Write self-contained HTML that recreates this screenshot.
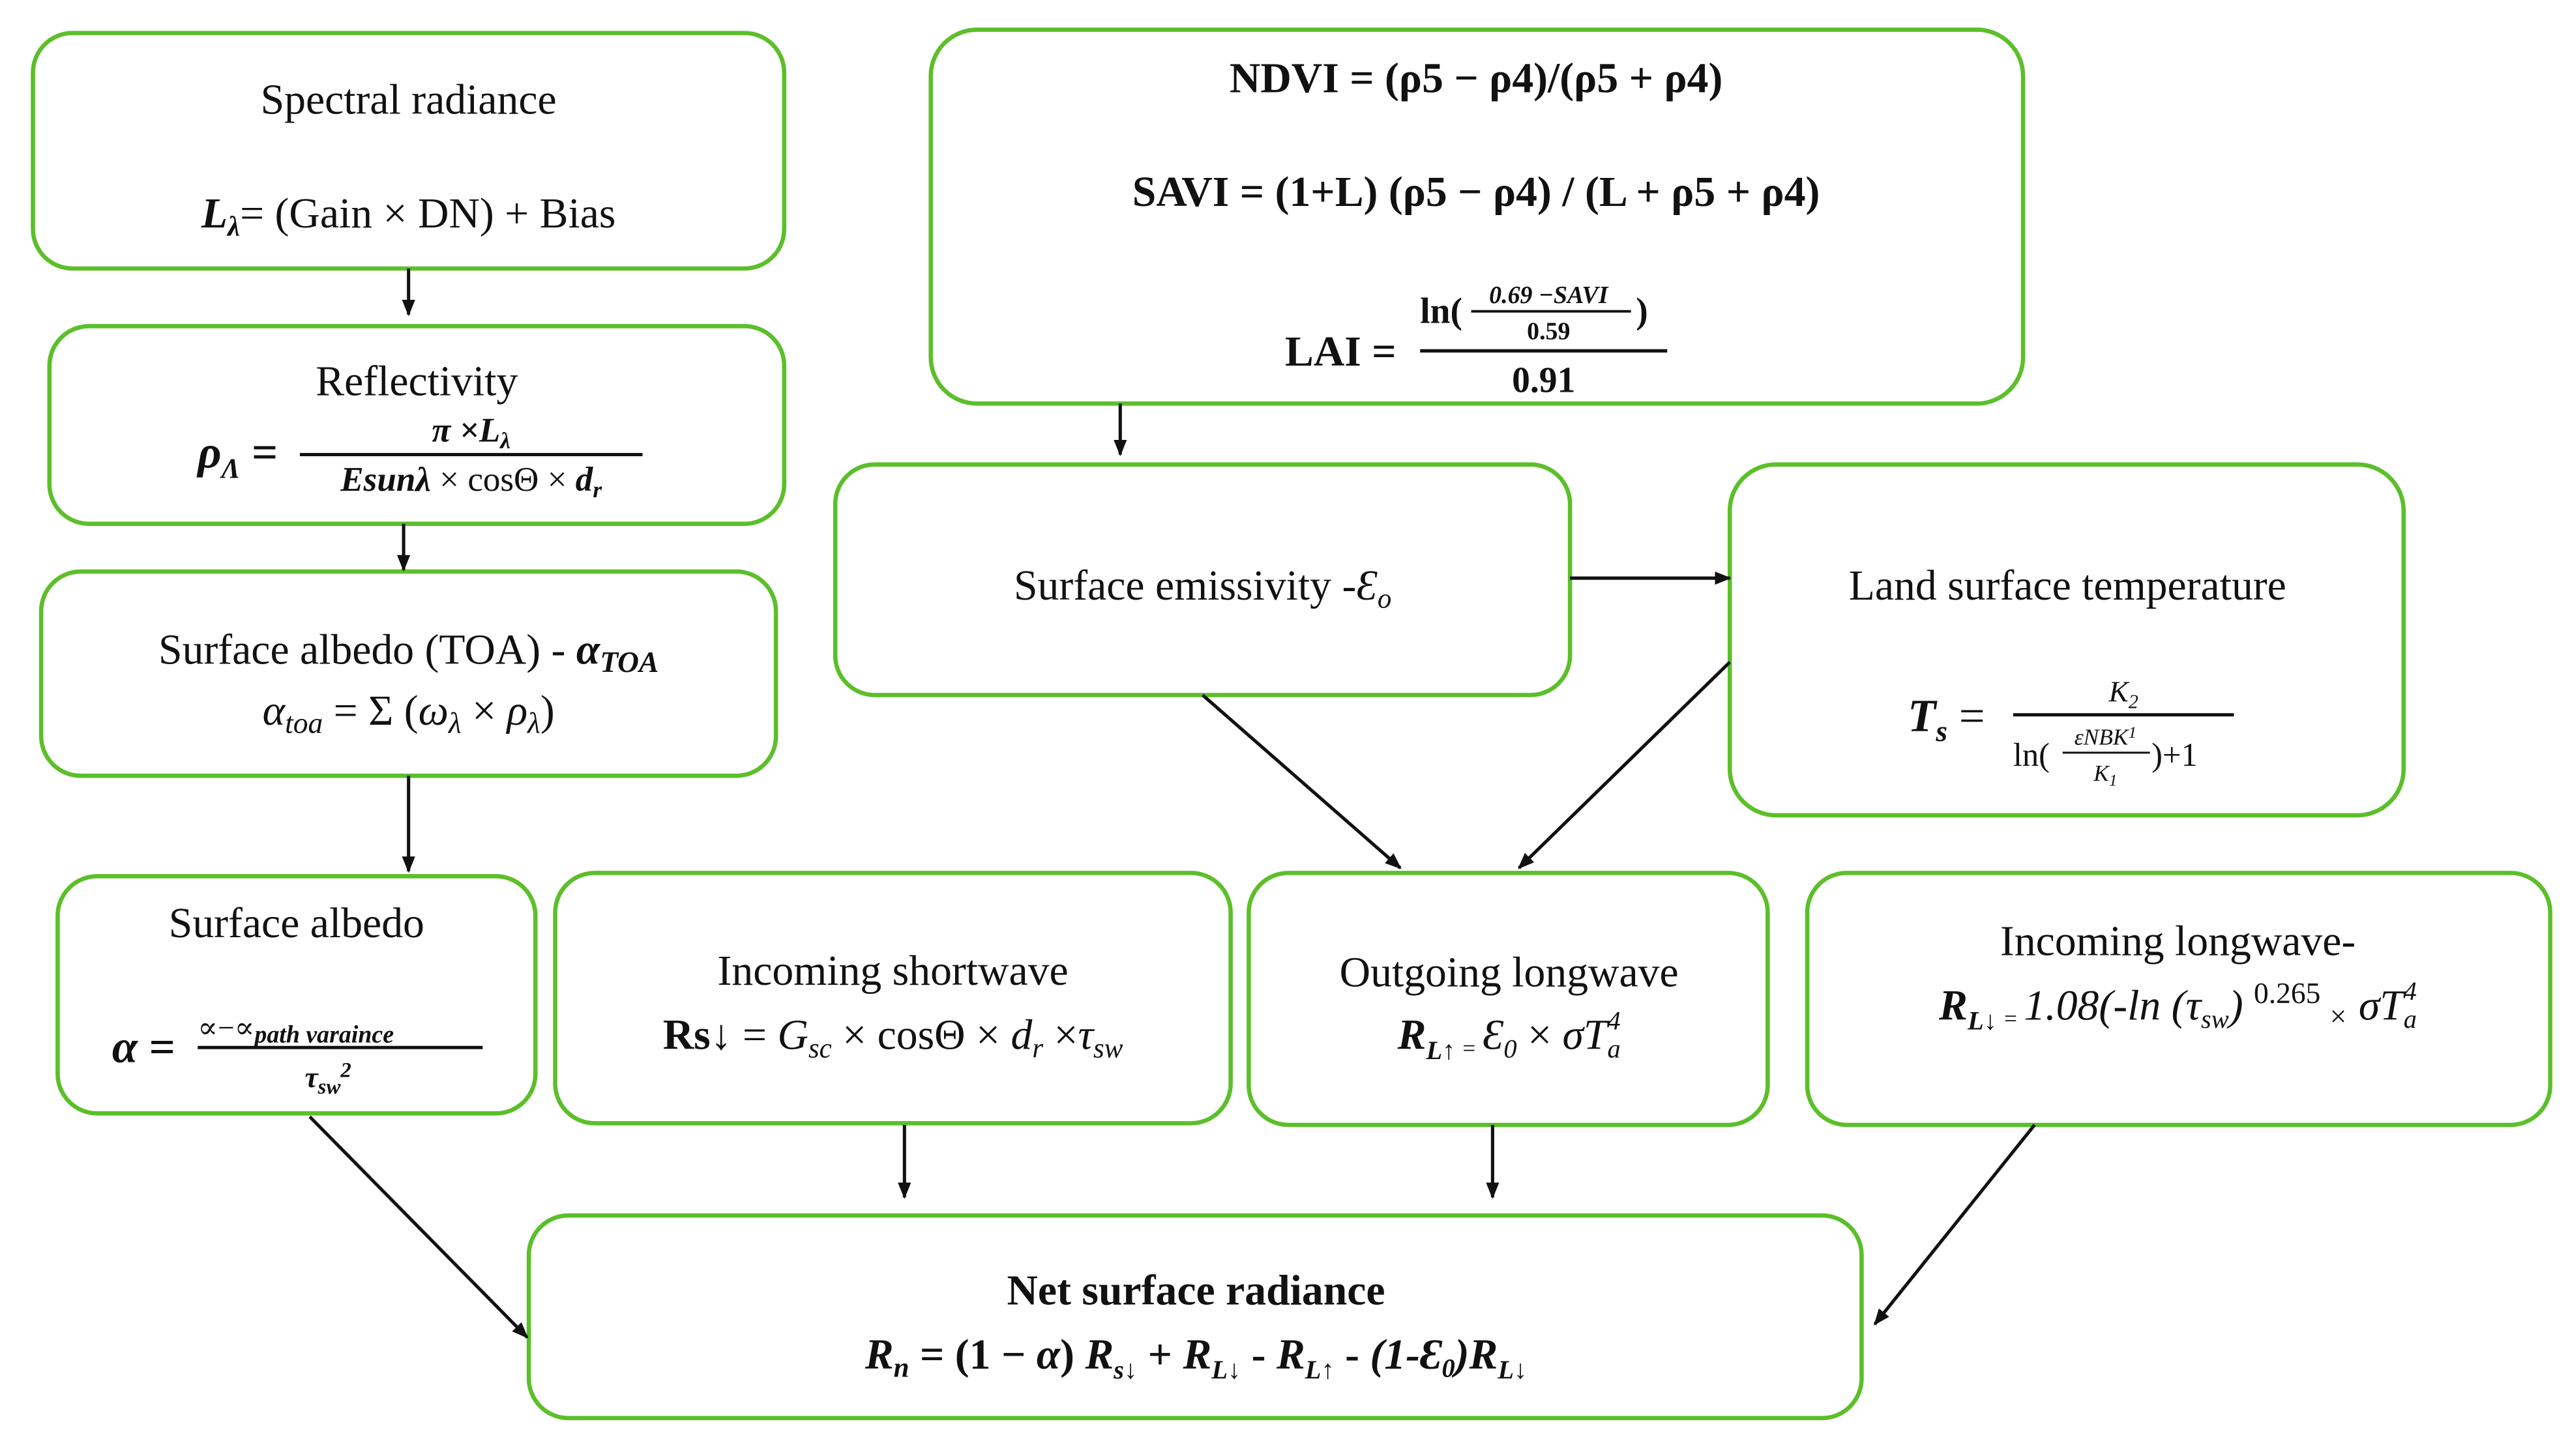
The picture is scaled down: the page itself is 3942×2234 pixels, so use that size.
<!DOCTYPE html>
<html><head><meta charset="utf-8"><style>
html,body{margin:0;padding:0;background:#fff}
svg{display:block}
text{font-family:"Liberation Serif","DejaVu Serif",serif;fill:#111}
.b{font-weight:bold}
.i{font-style:italic}
</style></head><body>
<svg width="3942" height="2234" viewBox="0 0 1560 884" xmlns="http://www.w3.org/2000/svg">
<defs><marker id="a" markerWidth="10" markerHeight="10" refX="9" refY="5" orient="auto" markerUnits="userSpaceOnUse"><path d="M0,1 L10,5 L0,9 z" fill="#111"/></marker></defs>
<g fill="#fff" stroke="#5cbf2a" stroke-width="2.6">
<rect x="20" y="20" width="456" height="143" rx="24"/>
<rect x="30" y="198" width="446" height="120" rx="24"/>
<rect x="25" y="347" width="446" height="124" rx="24"/>
<rect x="565" y="18" width="663" height="227" rx="28"/>
<rect x="507" y="282" width="446" height="140" rx="24"/>
<rect x="1050" y="282" width="409" height="213" rx="28"/>
<rect x="35" y="532" width="290" height="144" rx="24"/>
<rect x="337" y="530" width="410" height="152" rx="24"/>
<rect x="758" y="530" width="315" height="153" rx="24"/>
<rect x="1097" y="530" width="451" height="153" rx="24"/>
<rect x="321" y="738" width="809" height="123" rx="24"/>
</g>
<g stroke="#111" stroke-width="2" marker-end="url(#a)">
<line x1="248" y1="163" x2="248" y2="191"/>
<line x1="245" y1="318" x2="245" y2="346"/>
<line x1="248" y1="471" x2="248" y2="529"/>
<line x1="680" y1="245" x2="680" y2="276"/>
<line x1="953" y1="351" x2="1050" y2="351"/>
<line x1="730" y1="422" x2="850" y2="527"/>
<line x1="1050" y1="402" x2="922" y2="527"/>
<line x1="549" y1="683" x2="549" y2="727"/>
<line x1="906" y1="683" x2="906" y2="727"/>
<line x1="188" y1="678" x2="320" y2="812"/>
<line x1="1235" y1="683" x2="1138" y2="804"/>
</g>
<g font-size="26" text-anchor="middle">
<text x="248" y="69">Spectral radiance</text>
<text x="248" y="138"><tspan class="b i">L</tspan><tspan class="b i" font-size="17" dy="5">λ</tspan><tspan dy="-5">= (Gain × DN) + Bias</tspan></text>
<text x="253" y="240">Reflectivity</text>
<text x="248" y="403">Surface albedo (TOA) - <tspan class="b i">α</tspan><tspan class="b i" font-size="18" dy="5">TOA</tspan></text>
<text x="248" y="440" class="i">α<tspan font-size="18" dy="5">toa</tspan><tspan dy="-5" font-style="normal"> = Σ (</tspan>ω<tspan font-size="18" dy="5">λ</tspan><tspan dy="-5" font-style="normal"> × </tspan>ρ<tspan font-size="18" dy="5">λ</tspan><tspan dy="-5" font-style="normal">)</tspan></text>
<text x="896" y="56" class="b">NDVI = (ρ5 − ρ4)/(ρ5  + ρ4)</text>
<text x="896" y="125" class="b">SAVI = (1+L) (ρ5 − ρ4) / (L + ρ5 + ρ4)</text>
<text x="730" y="364">Surface emissivity -<tspan class="i">Ɛ</tspan><tspan class="i" font-size="17" dy="5">o</tspan></text>
<text x="1255" y="364">Land surface temperature</text>
<text x="180" y="569">Surface albedo</text>
<text x="542" y="598">Incoming shortwave</text>
<text x="542" y="637"><tspan class="b">Rs↓</tspan> = <tspan class="i">G</tspan><tspan class="i" font-size="17" dy="5">sc</tspan><tspan dy="-5"> × cosΘ × </tspan><tspan class="i">d</tspan><tspan class="i" font-size="17" dy="5">r</tspan><tspan dy="-5"> ×</tspan><tspan class="i">τ</tspan><tspan class="i" font-size="17" dy="5">sw</tspan></text>
<text x="916" y="599">Outgoing longwave</text>
<text x="916" y="637" class="i"><tspan class="b">R</tspan><tspan class="b" font-size="16" dy="6">L↑</tspan><tspan font-size="14" dy="-2"> = </tspan><tspan dy="-4">Ɛ</tspan><tspan font-size="16" dy="5">0</tspan><tspan dy="-5" font-style="normal"> × </tspan>σT<tspan font-size="16" dy="5">a</tspan><tspan font-size="16" dx="-8" dy="-17">4</tspan></text>
<text x="1322" y="580">Incoming longwave-</text>
<text x="1322" y="619" class="i"><tspan class="b">R</tspan><tspan class="b" font-size="16" dy="6">L↓</tspan><tspan font-size="14" dy="-2"> = </tspan><tspan dy="-4">1.08(-ln (τ</tspan><tspan font-size="16" dy="5">sw</tspan><tspan dy="-5">) </tspan><tspan font-size="18" font-style="normal" dy="-10">0.265</tspan><tspan font-size="18" dy="14"> ×</tspan><tspan dy="-4"> σT</tspan><tspan font-size="16" dy="5">a</tspan><tspan font-size="16" dx="-8" dy="-17">4</tspan></text>
<text x="726" y="792" class="b">Net surface radiance</text>
<text x="726" y="831" class="b"><tspan class="i">R</tspan><tspan class="i" font-size="17" dy="5">n</tspan><tspan dy="-5"> = (1 − </tspan><tspan class="i">α</tspan><tspan>) </tspan><tspan class="i">R</tspan><tspan class="i" font-size="16" dy="6">s↓</tspan><tspan dy="-6"> + </tspan><tspan class="i">R</tspan><tspan class="i" font-size="16" dy="6">L↓</tspan><tspan dy="-6"> - </tspan><tspan class="i">R</tspan><tspan class="i" font-size="16" dy="6">L↑</tspan><tspan dy="-6"> - </tspan><tspan class="i">(1-Ɛ</tspan><tspan class="i" font-size="16" dy="5">0</tspan><tspan class="i" dy="-5">)R</tspan><tspan class="i" font-size="16" dy="6">L↓</tspan></text>
</g>
<!-- Reflectivity formula -->
<g>
<text x="120" y="284" font-size="28" class="b i">ρ<tspan font-size="17" dy="6">Λ</tspan><tspan dy="-6" font-style="normal"> =</tspan></text>
<line x1="182" y1="276" x2="390" y2="276" stroke="#111" stroke-width="2"/>
<text x="286" y="268" font-size="21" text-anchor="middle" class="b i">π ×L<tspan font-size="14" dy="4">λ</tspan></text>
<text x="286" y="298" font-size="21" text-anchor="middle"><tspan class="b i">Esunλ</tspan> × cosΘ × <tspan class="b i">d</tspan><tspan class="b i" font-size="14" dy="4">r</tspan></text>
</g>
<!-- LAI -->
<g>
<text x="780" y="222" font-size="26" class="b">LAI =</text>
<line x1="862" y1="213" x2="1012" y2="213" stroke="#111" stroke-width="2"/>
<text x="862" y="196" font-size="22" class="b">ln(</text>
<text x="940" y="184" font-size="15" text-anchor="middle" class="b i">0.69 −SAVI</text>
<line x1="893" y1="189" x2="990" y2="189" stroke="#111" stroke-width="1.5"/>
<text x="940" y="206" font-size="15" text-anchor="middle" class="b">0.59</text>
<text x="993" y="196" font-size="22" class="b">)</text>
<text x="937" y="238" font-size="22" text-anchor="middle" class="b">0.91</text>
</g>
<!-- Ts -->
<g>
<text x="1158" y="444" font-size="28" class="b i">T<tspan font-size="18" dy="6">s</tspan><tspan dy="-6" font-style="normal" font-weight="normal"> =</tspan></text>
<line x1="1222" y1="434" x2="1356" y2="434" stroke="#111" stroke-width="2"/>
<text x="1289" y="426" font-size="18" text-anchor="middle" class="i">K<tspan font-size="12" dy="4">2</tspan></text>
<text x="1222" y="465" font-size="20">ln(</text>
<text x="1278" y="452" font-size="14" class="i" text-anchor="middle">εNBK<tspan font-size="10" dy="-4">1</tspan></text>
<line x1="1252" y1="457" x2="1305" y2="457" stroke="#111" stroke-width="1.2"/>
<text x="1278" y="474" font-size="14" class="i" text-anchor="middle">K<tspan font-size="10" dy="3">1</tspan></text>
<text x="1306" y="465" font-size="20">)+1</text>
</g>
<!-- Surface albedo formula -->
<g>
<text x="68" y="645" font-size="28" class="b i">α <tspan font-style="normal">=</tspan></text>
<line x1="120" y1="636" x2="293" y2="636" stroke="#111" stroke-width="2"/>
<text x="120" y="630" font-size="18">∝−∝<tspan class="b i" font-size="15" dy="3">path varaince</tspan></text>
<text x="185" y="660" font-size="18" class="b i">τ<tspan font-size="13" dy="4">sw</tspan><tspan font-size="13" dy="-10">2</tspan></text>
</g>
</svg>
</body></html>
